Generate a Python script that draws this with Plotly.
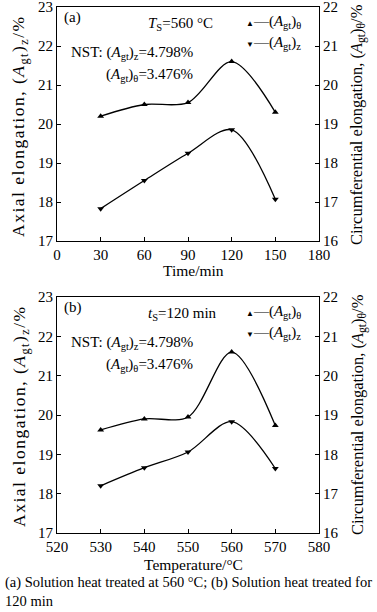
import plotly.graph_objects as go

# ---- data ----
time_min = [30, 60, 90, 120, 150]
time_theta = [19.2, 19.5, 19.55, 20.6, 19.3]      # (Agt)θ, right axis
time_z = [17.83, 18.55, 19.25, 19.85, 18.07]      # (Agt)z, left axis

temp_c = [530, 540, 550, 560, 570]
temp_theta = [18.62, 18.9, 18.95, 20.6, 18.73]
temp_z = [18.2, 18.66, 19.06, 19.83, 18.64]

x1_ticks = [0, 30, 60, 90, 120, 150, 180]
x2_ticks = [520, 530, 540, 550, 560, 570, 580]
yl_ticks = [17, 18, 19, 20, 21, 22, 23]
yr_ticks = [16, 17, 18, 19, 20, 21, 22]

W, H = 377, 612
FONT = "Liberation Serif"


def px(x):
    return x / W


def py(y):
    return 1 - y / H


XD = [px(57), px(319)]
Y1D = [py(241), py(7)]
Y2D = [py(533), py(297)]

fig = go.Figure()

mk = dict(color="black", size=6)
ln = dict(color="black", width=1.3, shape="spline", smoothing=0.9)

fig.add_trace(go.Scatter(x=time_min, y=time_theta, mode="lines+markers", xaxis="x", yaxis="y2",
                         line=ln, marker=dict(symbol="triangle-up", **mk), showlegend=False))
fig.add_trace(go.Scatter(x=time_min, y=time_z, mode="lines+markers", xaxis="x", yaxis="y",
                         line=ln, marker=dict(symbol="triangle-down", **mk), showlegend=False))
fig.add_trace(go.Scatter(x=temp_c, y=temp_theta, mode="lines+markers", xaxis="x2", yaxis="y4",
                         line=ln, marker=dict(symbol="triangle-up", **mk), showlegend=False))
fig.add_trace(go.Scatter(x=temp_c, y=temp_z, mode="lines+markers", xaxis="x2", yaxis="y3",
                         line=ln, marker=dict(symbol="triangle-down", **mk), showlegend=False))

axc = dict(showline=True, linecolor="black", linewidth=1, ticks="inside", ticklen=4,
           tickcolor="black", tickwidth=1, showgrid=False, zeroline=False, automargin=False,
           ticklabeloverflow="allow",
           tickfont=dict(family=FONT, size=15, color="black"))

fig.update_layout(
    width=W, height=H, margin=dict(l=0, r=0, t=0, b=0, autoexpand=False),
    paper_bgcolor="white", plot_bgcolor="white",
    font=dict(family=FONT, size=14, color="black"),
    xaxis=dict(domain=XD, anchor="y", range=[0, 180], tickvals=x1_ticks, mirror=True, **axc),
    yaxis=dict(domain=Y1D, anchor="x", range=[17, 23], tickvals=yl_ticks, **axc),
    yaxis2=dict(overlaying="y", side="right", anchor="x", range=[16, 22], tickvals=yr_ticks, **axc),
    xaxis2=dict(domain=XD, anchor="y3", range=[520, 580], tickvals=x2_ticks, mirror=True, **axc),
    yaxis3=dict(domain=Y2D, anchor="x2", range=[17, 23], tickvals=yl_ticks, **axc),
    yaxis4=dict(overlaying="y3", side="right", anchor="x2", range=[16, 22], tickvals=yr_ticks, **axc),
)

ann = []


def T(x, y, text, size=14, xanchor="left", angle=0, yanchor="middle"):
    ann.append(dict(x=px(x), y=py(y), xref="paper", yref="paper", text=text, showarrow=False,
                    xanchor=xanchor, yanchor=yanchor, textangle=angle,
                    font=dict(family=FONT, size=size, color="black")))


AGT = "(<i>A</i><sub>gt</sub>)"
for off, lab, cond in [(0, "(a)", "<i>T</i><sub>S</sub>=560 °C"), (290, "(b)", "<i>t</i><sub>S</sub>=120 min")]:
    T(62, 17 + off, lab, size=15)
    T(146, 24 + off, cond, size=15)
    T(195, 53 + off, "NST: " + AGT + "<sub>z</sub>=4.798%", size=15, xanchor="right")
    T(195, 75 + off, AGT + "<sub>θ</sub>=3.476%", size=15, xanchor="right")
    T(244, 22 + off, "<span style='font-size:8px'>▲</span>—" + AGT + "<sub>θ</sub>", size=15)
    T(244, 43 + off, "<span style='font-size:8px'>▼</span>—" + AGT + "<sub>z</sub>", size=15)
    T(20, 126 + off, "<span style='letter-spacing:1.5px'>Axial elongation, " + AGT + "<sub>z</sub>/%</span>",
      size=17.5, xanchor="center", angle=-90)
    T(358, 125 + off, "Circumferential elongation, " + AGT + "<sub>θ</sub>/%", size=16.5,
      xanchor="center", angle=-90)

T(193, 270, "Time/min", size=15.5, xanchor="center")
T(193, 564, "Temperature/°C", size=15.5, xanchor="center")
T(3, 582, "(a) Solution heat treated at 560 °C; (b) Solution heat treated for", size=14.5)
T(3, 601, "120 min", size=14.5)

fig.update_layout(annotations=ann)
fig.write_html("out.html", config={"displayModeBar": False},
               post_script="document.body.style.margin='0';document.body.style.overflow='hidden';")
